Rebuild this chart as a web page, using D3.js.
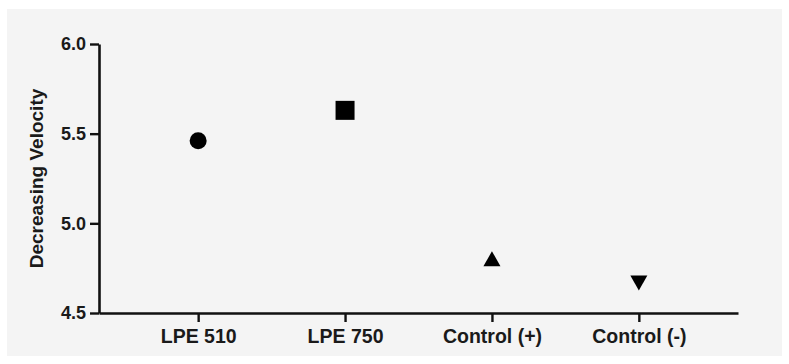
<!DOCTYPE html>
<html>
<head>
<meta charset="utf-8">
<script src="https://cdn.jsdelivr.net/npm/d3@7"></script>
<style>
  html, body { margin: 0; padding: 0; background: #fff; }
  svg { display: block; }
  text { font-family: "Liberation Sans", Arial, sans-serif; font-weight: bold; fill: #1a1a1a; }
</style>
</head>
<body>
<svg id="chart" width="789" height="364"></svg>
<script>
// chart data
const groups = ["LPE 510", "LPE 750", "Control (+)", "Control (-)"];
const values = [5.46, 5.63, 4.80, 4.67];
const shapes = ["circle", "square", "triangleUp", "triangleDown"];
const yTicks = [4.5, 5.0, 5.5, 6.0];
const yLabel = "Decreasing Velocity";

const svg = d3.select("svg#chart");
const W = 789, H = 364;
const margin = { top: 44, right: 51, bottom: 51, left: 99 };

// light grey panel behind everything
svg.append("rect")
  .attr("x", 7).attr("y", 9)
  .attr("width", W - 14).attr("height", H - 17)
  .attr("fill", "#f4f4f4");

const x = d3.scalePoint()
  .domain(groups)
  .range([margin.left, W - margin.right])
  .padding(0.675);

const y = d3.scaleLinear()
  .domain([4.5, 6.0])
  .range([H - margin.bottom, margin.top]);

// Y axis
const yAxis = svg.append("g")
  .attr("transform", `translate(${margin.left}, 0)`)
  .call(d3.axisLeft(y).tickValues(yTicks).tickFormat(d3.format(".1f")).tickSize(9).tickPadding(4).tickSizeOuter(0));

// X axis
const xAxis = svg.append("g")
  .attr("transform", `translate(0, ${H - margin.bottom})`)
  .call(d3.axisBottom(x).tickSize(9).tickPadding(7).tickSizeOuter(0));

[yAxis, xAxis].forEach((g) => {
  g.select(".domain").attr("stroke", "#111").attr("stroke-width", 2.6);
  g.selectAll(".tick line").attr("stroke", "#111").attr("stroke-width", 2.4);
  g.selectAll("text").attr("font-size", 18).attr("fill", "#1a1a1a")
    .attr("font-family", "Liberation Sans, Arial, sans-serif").attr("font-weight", "bold");
});
xAxis.selectAll("text").attr("font-size", 19.5);

// y axis title
svg.append("text")
  .attr("transform", `translate(43, ${(margin.top + H - margin.bottom) / 2}) rotate(-90)`)
  .attr("text-anchor", "middle")
  .attr("font-size", 19)
  .text(yLabel);

// markers
function markerPath(shape) {
  switch (shape) {
    case "circle":
      return d3.symbol(d3.symbolCircle, Math.PI * 8.5 * 8.5)();
    case "square":
      return "M-9.5,-9.5H9.5V9.5H-9.5Z";
    case "triangleUp":
      return "M0,-8L8.5,7H-8.5Z";
    case "triangleDown":
      return "M0,8L8.5,-7H-8.5Z";
  }
}

svg.append("g")
  .selectAll("path")
  .data(groups.map((g, i) => ({ name: g, value: values[i], shape: shapes[i] })))
  .join("path")
  .attr("transform", (d) => `translate(${x(d.name)}, ${y(d.value)})`)
  .attr("d", (d) => markerPath(d.shape))
  .attr("fill", "#000");
</script>
</body>
</html>
